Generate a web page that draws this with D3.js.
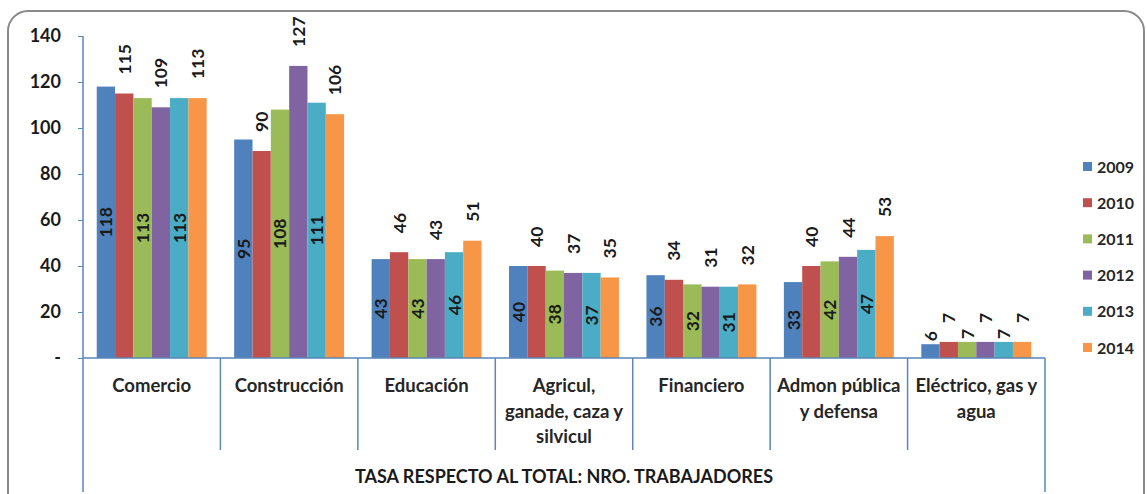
<!DOCTYPE html>
<html>
<head>
<meta charset="utf-8">
<script src="https://cdn.jsdelivr.net/npm/d3@7"></script>
<style>
  html, body { margin: 0; padding: 0; background: #fff; }
  svg { display: block; }
  text { font-family: Lato, "Open Sans", sans-serif; font-weight: bold; }
</style>
</head>
<body>
<svg id="chart" width="1147" height="494"></svg>
<script>
const categories = ["Comercio", "Construcción", "Educación", "Agricul,\nganade, caza y\nsilvicul", "Financiero", "Admon pública\ny defensa", "Eléctrico, gas y\nagua"];
const years = ["2009", "2010", "2011", "2012", "2013", "2014"];
const v2009 = [118, 95, 43, 40, 36, 33, 6];
const v2010 = [115, 90, 46, 40, 34, 40, 7];
const v2011 = [113, 108, 43, 38, 32, 42, 7];
const v2012 = [109, 127, 43, 37, 31, 44, 7];
const v2013 = [113, 111, 46, 37, 31, 47, 7];
const v2014 = [113, 106, 51, 35, 32, 53, 7];
const yTicks = [0, 20, 40, 60, 80, 100, 120, 140];
const axisTitle = "TASA RESPECTO AL TOTAL: NRO. TRABAJADORES";
const colors = ["#4F81BD", "#C0504D", "#9BBB59", "#8064A2", "#4BACC6", "#F79646"];

const seriesValues = [v2009, v2010, v2011, v2012, v2013, v2014];
const svg = d3.select("#chart");

// outer rounded frame
svg.append("rect")
  .attr("x", 8).attr("y", 11).attr("width", 1136).attr("height", 510)
  .attr("rx", 20).attr("ry", 20)
  .attr("fill", "none").attr("stroke", "#8a8a8a").attr("stroke-width", 2);

const pLeft = 83, pRight = 1045, pTop = 36, pBottom = 358;
const y = d3.scaleLinear().domain([0, 140]).range([pBottom, pTop]);
const x0 = d3.scaleBand().domain(categories).range([pLeft, pRight]).padding(0);
const bw = x0.bandwidth();
const x1 = d3.scaleBand().domain(years).range([bw * 0.1, bw * 0.9]).padding(0);
const axisColor = "#5a86b8";

// y axis
const yAxis = d3.axisLeft(y).tickValues(yTicks).tickSize(5).tickPadding(17)
  .tickFormat(d => d === 0 ? "-" : d);
const gy = svg.append("g").attr("transform", `translate(${pLeft},0)`).call(yAxis);
gy.select(".domain").remove();
gy.selectAll(".tick line").attr("stroke", axisColor);
gy.selectAll(".tick text").attr("font-size", 18).attr("fill", "#1a1a1a")
  .style("font-family", "Lato, sans-serif").style("font-weight", "bold");

// bars
const groups = svg.append("g").selectAll("g").data(categories).join("g")
  .attr("transform", d => `translate(${x0(d)},0)`);

groups.each(function(cat, ci) {
  const g = d3.select(this);
  years.forEach((yr, si) => {
    const v = seriesValues[si][ci];
    g.append("rect")
      .attr("x", x1(yr)).attr("y", y(v))
      .attr("width", x1.bandwidth()).attr("height", y(0) - y(v))
      .attr("fill", colors[si]);
  });
});

// data labels
groups.each(function(cat, ci) {
  const g = d3.select(this);
  years.forEach((yr, si) => {
    const v = seriesValues[si][ci];
    const cx = x1(yr) + x1.bandwidth() / 2;
    const h = y(0) - y(v);
    const t = g.append("text")
      .attr("font-size", 17.5).attr("fill", "#1a1a1a")
      .attr("dominant-baseline", "central")
      .text(v);
    if (si % 2 === 1) {
      t.attr("text-anchor", "start")
        .attr("transform", `translate(${cx},${y(v) - 19}) rotate(-90)`);
    } else if (h < 30) {
      t.attr("text-anchor", "start")
        .attr("transform", `translate(${cx},${y(v) - 3}) rotate(-90)`);
    } else {
      t.attr("text-anchor", "middle")
        .attr("transform", `translate(${cx},${(y(v) + y(0)) / 2}) rotate(-90)`);
    }
  });
});

// axis lines
svg.append("line").attr("x1", pLeft).attr("x2", pLeft).attr("y1", pTop).attr("y2", 492)
  .attr("stroke", axisColor).attr("stroke-width", 1.5);
svg.append("line").attr("x1", pLeft).attr("x2", pRight).attr("y1", pBottom).attr("y2", pBottom)
  .attr("stroke", axisColor).attr("stroke-width", 1.5);
categories.forEach((c, i) => {
  if (i === 0) return;
  svg.append("line").attr("x1", x0(c)).attr("x2", x0(c)).attr("y1", pBottom).attr("y2", 450)
    .attr("stroke", axisColor).attr("stroke-width", 1.5);
});
svg.append("line").attr("x1", pRight).attr("x2", pRight).attr("y1", pBottom).attr("y2", 492)
  .attr("stroke", axisColor).attr("stroke-width", 1.5);

// category labels
categories.forEach(c => {
  const lines = c.split("\n");
  const t = svg.append("text").attr("text-anchor", "middle")
    .attr("font-size", 18.5).attr("fill", "#262626");
  lines.forEach((ln, li) => {
    t.append("tspan").attr("x", x0(c) + bw / 2).attr("y", 392 + li * 25.5).text(ln);
  });
});

// axis title
svg.append("text").attr("x", (pLeft + pRight) / 2).attr("y", 483)
  .attr("text-anchor", "middle").attr("font-size", 18).attr("fill", "#1a1a1a")
  .text(axisTitle);

// legend
const lg = svg.append("g");
years.forEach((yr, i) => {
  const ly = 166 + i * 36.2;
  lg.append("rect").attr("x", 1083).attr("y", ly - 4).attr("width", 9).attr("height", 9)
    .attr("fill", colors[i]);
  lg.append("text").attr("x", 1097).attr("y", ly).attr("dominant-baseline", "central")
    .attr("font-size", 16).attr("fill", "#262626").text(yr);
});
</script>
</body>
</html>
